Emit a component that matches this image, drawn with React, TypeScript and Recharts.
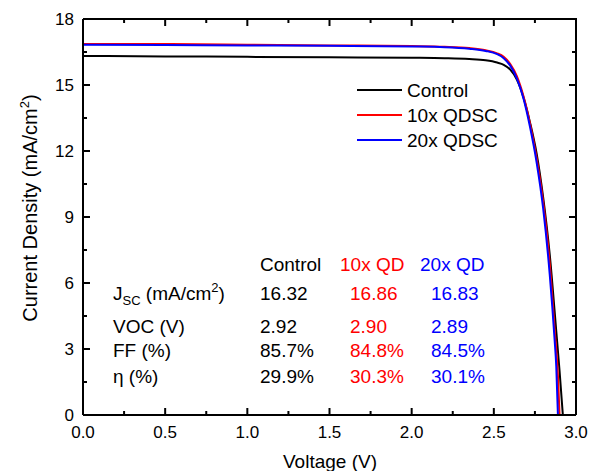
import { Customized, Line, LineChart, XAxis, YAxis } from 'recharts';

// J-V curves, voltage (V) vs current density (mA/cm2)
const controlCurve = [
  { v: 0, j: 16.32 }, { v: 0.5, j: 16.3 }, { v: 1.0, j: 16.28 }, { v: 1.5, j: 16.26 },
  { v: 2.0, j: 16.24 }, { v: 2.2, j: 16.22 }, { v: 2.35, j: 16.18 }, { v: 2.45, j: 16.12 },
  { v: 2.52, j: 16.02 }, { v: 2.56, j: 15.92 }, { v: 2.6, j: 15.7 }, { v: 2.64, j: 15.25 },
  { v: 2.68, j: 14.45 }, { v: 2.72, j: 13.3 }, { v: 2.76, j: 11.9 }, { v: 2.8, j: 9.9 },
  { v: 2.84, j: 7.3 }, { v: 2.88, j: 3.8 }, { v: 2.9, j: 2.0 }, { v: 2.92, j: 0 },
];
const qd10Curve = [
  { v: 0, j: 16.86 }, { v: 0.5, j: 16.86 }, { v: 1.0, j: 16.83 }, { v: 1.5, j: 16.8 },
  { v: 2.0, j: 16.77 }, { v: 2.2, j: 16.74 }, { v: 2.35, j: 16.68 }, { v: 2.45, j: 16.58 },
  { v: 2.52, j: 16.44 }, { v: 2.56, j: 16.28 }, { v: 2.6, j: 15.95 }, { v: 2.64, j: 15.4 },
  { v: 2.68, j: 14.5 }, { v: 2.72, j: 13.25 }, { v: 2.76, j: 11.7 }, { v: 2.8, j: 9.7 },
  { v: 2.84, j: 6.9 }, { v: 2.87, j: 3.9 }, { v: 2.89, j: 1.8 }, { v: 2.9, j: 0 },
];
const qd20Curve = [
  { v: 0, j: 16.83 }, { v: 0.5, j: 16.82 }, { v: 1.0, j: 16.8 }, { v: 1.5, j: 16.78 },
  { v: 2.0, j: 16.75 }, { v: 2.2, j: 16.72 }, { v: 2.35, j: 16.65 }, { v: 2.45, j: 16.55 },
  { v: 2.52, j: 16.4 }, { v: 2.56, j: 16.22 }, { v: 2.6, j: 15.88 }, { v: 2.64, j: 15.3 },
  { v: 2.68, j: 14.4 }, { v: 2.72, j: 13.1 }, { v: 2.76, j: 11.5 }, { v: 2.8, j: 9.4 },
  { v: 2.84, j: 6.4 }, { v: 2.87, j: 3.4 }, { v: 2.88, j: 2.2 }, { v: 2.89, j: 0 },
];

const seriesNames = ['Control', '10x QDSC', '20x QDSC'];
const seriesColors = ['#000000', '#ff0000', '#0000ff'];

const xTicks = [0, 0.25, 0.5, 0.75, 1, 1.25, 1.5, 1.75, 2, 2.25, 2.5, 2.75, 3];
const yTicks = [0, 1.5, 3, 4.5, 6, 7.5, 9, 10.5, 12, 13.5, 15, 16.5, 18];

// parameter table
const tableHeaders = ['Control', '10x QD', '20x QD'];
const rowLabels = ['VOC (V)', 'FF (%)', 'η (%)'];
const controlValues = ['16.32', '2.92', '85.7%', '29.9%'];
const qd10Values = ['16.86', '2.90', '84.8%', '30.3%'];
const qd20Values = ['16.83', '2.89', '84.5%', '30.1%'];

const FONT = '"Liberation Sans", Arial, sans-serif';
const X_MAX = 3;
const Y_MAX = 18;

// chart geometry (plot box = 83..576 x 19..415)
const W = 596;
const H = 471;
const MARGIN = { top: 19, right: 20, left: 0, bottom: 0 };
const Y_AXIS_W = 83;
const X_AXIS_H = 56;
const PLOT = {
  left: MARGIN.left + Y_AXIS_W,
  right: W - MARGIN.right,
  top: MARGIN.top,
  bottom: H - MARGIN.bottom - X_AXIS_H,
};

const isMajorX = (v: number) => Math.abs(v * 2 - Math.round(v * 2)) < 1e-6;
const isMajorY = (v: number) => v % 3 === 0;

function BottomTick({ x, y, payload }: any) {
  const major = isMajorX(payload.value);
  return (
    <g>
      <line x1={x} x2={x} y1={y} y2={y - (major ? 7 : 4)} stroke="#000000" strokeWidth={2} />
      {major && (
        <text x={x} y={y + 23} textAnchor="middle" fontSize={17} fontFamily={FONT} fill="#000">
          {payload.value.toFixed(1)}
        </text>
      )}
    </g>
  );
}

function LeftTick({ x, y, payload }: any) {
  const major = isMajorY(payload.value);
  return (
    <g>
      <line x1={x} x2={x + (major ? 7 : 4)} y1={y} y2={y} stroke="#000000" strokeWidth={2} />
      {major && (
        <text x={x - 9} y={y + 6} textAnchor="end" fontSize={17} fontFamily={FONT} fill="#000">
          {payload.value}
        </text>
      )}
    </g>
  );
}

// top and right edges of the box, with mirrored inward ticks
function Frame() {
  const px = (v: number) => PLOT.left + (v / X_MAX) * (PLOT.right - PLOT.left);
  const py = (v: number) => PLOT.bottom - (v / Y_MAX) * (PLOT.bottom - PLOT.top);
  return (
    <g>
      <line x1={PLOT.left} x2={PLOT.right + 1} y1={PLOT.top} y2={PLOT.top} stroke="#000000" strokeWidth={2} />
      <line x1={PLOT.right} x2={PLOT.right} y1={PLOT.top} y2={PLOT.bottom} stroke="#000000" strokeWidth={2} />
      {xTicks.map((t) => (
        <line
          key={`x${t}`}
          x1={px(t)}
          x2={px(t)}
          y1={PLOT.top}
          y2={PLOT.top + (isMajorX(t) ? 7 : 4)}
          stroke="#000000"
          strokeWidth={2}
        />
      ))}
      {yTicks.map((t) => (
        <line
          key={`y${t}`}
          x1={PLOT.right}
          x2={PLOT.right - (isMajorY(t) ? 7 : 4)}
          y1={py(t)}
          y2={py(t)}
          stroke="#000000"
          strokeWidth={2}
        />
      ))}
    </g>
  );
}

function Annotations() {
  const colX = [260, 350, 431];
  const rowY = [300, 333, 357, 383];
  return (
    <g fontFamily={FONT} fontSize={19}>
      <Frame />
      {/* legend */}
      {seriesNames.map((name, i) => (
        <g key={name}>
          <line x1={357} x2={402} y1={90 + i * 25} y2={90 + i * 25} stroke={seriesColors[i]} strokeWidth={2} />
          <text x={407} y={97 + i * 25} fill="#000">{name}</text>
        </g>
      ))}
      {/* table */}
      {tableHeaders.map((h, i) => (
        <text key={h} x={[260, 340, 420][i]} y={271} fill={seriesColors[i]}>{h}</text>
      ))}
      <text x={113} y={rowY[0]} fill="#000">
        J<tspan fontSize={13} dy={5}>SC</tspan>
        <tspan dy={-5}> (mA/cm</tspan>
        <tspan fontSize={13} dy={-8}>2</tspan>
        <tspan dy={8}>)</tspan>
      </text>
      {rowLabels.map((l, i) => (
        <text key={l} x={113} y={rowY[i + 1]} fill="#000">{l}</text>
      ))}
      {[controlValues, qd10Values, qd20Values].map((vals, c) =>
        vals.map((v, r) => (
          <text key={`${c}-${r}`} x={colX[c]} y={rowY[r]} fill={seriesColors[c]}>{v}</text>
        )),
      )}
      {/* axis titles */}
      <text x={330} y={468} textAnchor="middle" fill="#000">Voltage (V)</text>
      <text x={0} y={0} transform="translate(37 208) rotate(-90)" textAnchor="middle" fontSize={20} fill="#000">
        Current Density (mA/cm<tspan fontSize={13} dy={-8}>2</tspan><tspan dy={8}>)</tspan>
      </text>
    </g>
  );
}

export default function App() {
  return (
    <div style={{ position: 'absolute', left: 0, top: 0, width: W, height: H, background: '#fff' }}>
      <LineChart width={W} height={H} margin={MARGIN}>
        <XAxis
          type="number"
          dataKey="v"
          domain={[0, X_MAX]}
          ticks={xTicks}
          interval={0}
          height={X_AXIS_H}
          tickSize={0}
          tickMargin={0}
          tick={<BottomTick />}
          axisLine={{ stroke: '#000', strokeWidth: 2 }}
          allowDataOverflow
        />
        <YAxis
          type="number"
          domain={[0, Y_MAX]}
          ticks={yTicks}
          interval={0}
          width={Y_AXIS_W}
          tickSize={0}
          tickMargin={0}
          tick={<LeftTick />}
          axisLine={{ stroke: '#000', strokeWidth: 2 }}
          allowDataOverflow
        />
        {[controlCurve, qd10Curve, qd20Curve].map((d, i) => (
          <Line
            key={seriesNames[i]}
            data={d}
            dataKey="j"
            name={seriesNames[i]}
            type="monotone"
            stroke={seriesColors[i]}
            strokeWidth={2}
            dot={false}
            isAnimationActive={false}
          />
        ))}
        <Customized component={Annotations} />
      </LineChart>
    </div>
  );
}
